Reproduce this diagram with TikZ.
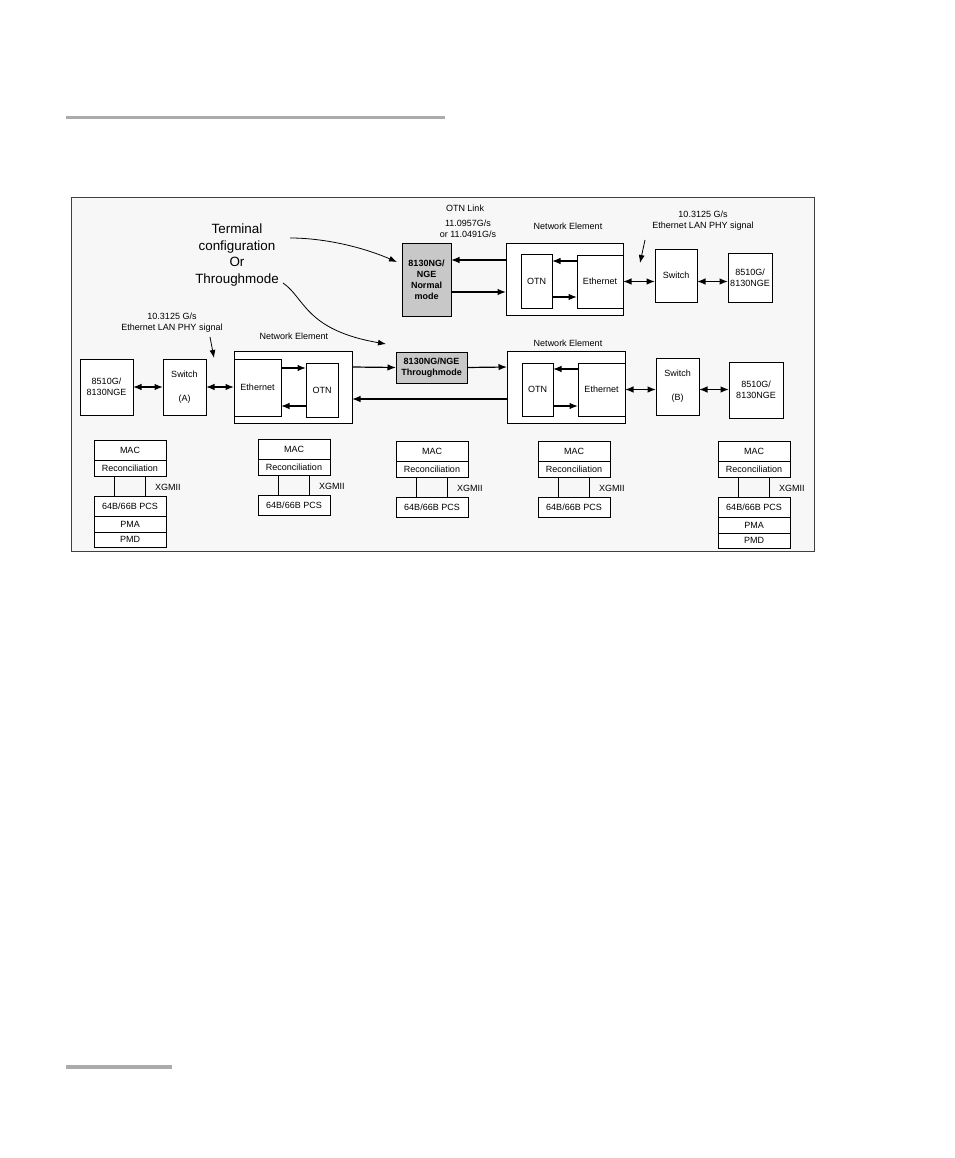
\documentclass[tikz,border=0pt]{standalone}
\usepackage{fontspec}
\setmainfont{Liberation Sans}
\usepackage{xcolor}
\usetikzlibrary{arrows.meta}
\definecolor{framebg}{HTML}{F7F7F7}
\definecolor{boxgray}{HTML}{C8C8C8}
\definecolor{rulegray}{HTML}{ABABAB}

\begin{document}
\begin{tikzpicture}[x=1pt,y=-1pt,
    blk/.style={draw, fill=white, line width=0.9pt, inner sep=0pt, outer sep=0pt, align=center, font=\fontsize{9}{11}\selectfont},
    modebox/.style={blk, fill=boxgray, font=\fontsize{9}{11}\selectfont\bfseries},
    lbl/.style={align=center, inner sep=0pt, font=\fontsize{9}{11}\selectfont},
    lyr/.style={blk, minimum width=72pt, anchor=north west},
    arr/.style={line width=1.2pt, -{Latex[length=8.5pt,width=6.5pt]}},
    darr/.style={line width=1.2pt, {Latex[length=8.5pt,width=6.5pt]}-{Latex[length=8.5pt,width=6.5pt]}},
    thin arr/.style={line width=0.8pt, -{Latex[length=8pt,width=6pt]}}]
    \useasboundingbox (0,0) rectangle (954,1158);
    % page rules and frame
    \fill[rulegray] (66,116) rectangle (445,119);
    \fill[rulegray] (66,1065) rectangle (172,1068.5);
    \draw[fill=framebg, draw=black!75, line width=0.9pt] (71,197) rectangle (814,551);

    % Mode caption
    \node[align=center, inner sep=0pt, font=\fontsize{13.4}{16.5}\selectfont] (term) at (237,255) {Terminal\\configuration\\Or\\Throughmode};
    \coordinate (c1s) at (290,238);
    \coordinate (c1e) at (397,262);
    \coordinate (c2s) at (283,283);
    \coordinate (c2e) at (386,344);
    \draw[thin arr] (c1s) .. controls (322,238) and (360,246) .. (c1e);
    \draw[thin arr] (c2s) .. controls (305,298) and (305,330) .. (c2e);

    % Top row: normal mode
    \node[modebox, minimum width=49pt, minimum height=73pt] (nm) at (426.5,279.5) {8130NG/\\NGE\\Normal\\mode};
    \node[blk, minimum width=117pt, minimum height=72pt] (netop) at (564.5,279) {};
    \node[blk, minimum width=31pt, minimum height=54pt] (otntop) at (536.5,281) {OTN};
    \node[blk, minimum width=46pt, minimum height=53pt] (ethtop) at (600,281.5) {Ethernet};
    \node[blk, minimum width=42pt, minimum height=53pt] (swtop) at (676,275.5) {Switch};
    \node[blk, minimum width=44pt, minimum height=49pt] (hosttop) at (750,277.5) {8510G/\\8130NGE};
    \node[lbl] (otnlink) at (465,208) {OTN Link};
    \node[lbl] (rates) at (468,228.5) {11.0957G/s\\or 11.0491G/s};
    \node[lbl] (netoplbl) at (568,226) {Network Element};
    \node[lbl] (phytop) at (703,221) {10.3125 G/s\\Ethernet LAN PHY signal};
    \coordinate (p1s) at (645,240);
    \coordinate (p1e) at (640,263);
    \draw[thin arr] (p1s) -- (p1e);

    \draw[arr] ([yshift=19pt]netop.west) -- ([yshift=19.5pt]nm.east);
    \draw[arr] ([yshift=-12.5pt]nm.east) -- ([yshift=-13pt]netop.west);
    \draw[arr] ([yshift=20.5pt]ethtop.west) -- ([yshift=20pt]otntop.east);
    \draw[arr] ([yshift=-16pt]otntop.east) -- ([yshift=-15.5pt]ethtop.west);
    \draw[darr] (ethtop.east) -- (ethtop.east -| swtop.west);
    \draw[darr] (ethtop.east -| swtop.east) -- (ethtop.east -| hosttop.west);

    % Bottom row: throughmode
    \node[blk, minimum width=53pt, minimum height=56pt] (hostA) at (106.5,387) {8510G/\\8130NGE};
    \node[blk, minimum width=43pt, minimum height=56pt] (swA) at (184.5,387) {Switch\\[13pt](A)};
    \node[blk, minimum width=118pt, minimum height=72pt] (neA) at (293,387) {};
    \node[blk, minimum width=47pt, minimum height=57pt] (ethA) at (257.5,387.5) {Ethernet};
    \node[blk, minimum width=32pt, minimum height=54pt] (otnA) at (322,390) {OTN};
    \node[modebox, minimum width=71pt, minimum height=31pt] (thr) at (431.5,367.5) {8130NG/NGE\\Throughmode};
    \node[blk, minimum width=118pt, minimum height=72pt] (neB) at (566,387) {};
    \node[blk, minimum width=31pt, minimum height=53pt] (otnB) at (537.5,389.5) {OTN};
    \node[blk, minimum width=47pt, minimum height=53pt] (ethB) at (601.5,389.5) {Ethernet};
    \node[blk, minimum width=43pt, minimum height=57pt] (swB) at (677.5,386.5) {Switch\\[13pt](B)};
    \node[blk, minimum width=54pt, minimum height=56pt] (hostB) at (756,390) {8510G/\\8130NGE};
    \node[lbl] (neAlbl) at (294,336) {Network Element};
    \node[lbl] (neBlbl) at (568,343) {Network Element};
    \node[lbl] (phyA) at (172,323) {10.3125 G/s\\Ethernet LAN PHY signal};
    \coordinate (p2s) at (210,337);
    \coordinate (p2e) at (214,358);
    \draw[thin arr] (p2s) -- (p2e);

    \draw[darr] (hostA.east) -- (swA.west);
    \draw[darr] (swA.east) -- (swA.east -| ethA.west);
    \draw[arr] ([yshift=19.5pt]ethA.east) -- ([yshift=22pt]otnA.west);
    \draw[arr] ([yshift=-16pt]otnA.west) -- ([yshift=-18.5pt]ethA.east);
    \draw[arr] ([yshift=20pt]neA.east) -- (thr.west);
    \draw[arr] (thr.east) -- ([yshift=20pt]neB.west);
    \draw[arr] ([yshift=-12pt]neB.west) -- ([yshift=-12pt]neA.east);
    \draw[arr] ([yshift=20.5pt]ethB.west) -- ([yshift=20.5pt]otnB.east);
    \draw[arr] ([yshift=-16.5pt]otnB.east) -- ([yshift=-16.5pt]ethB.west);
    \draw[darr] (ethB.east) -- (ethB.east -| swB.west);
    \draw[darr] (ethB.east -| swB.east) -- (ethB.east -| hostB.west);

    % Layer stacks
    \foreach \i/\x/\y/\full in {1/94/440/1, 2/258/439/0, 3/396/441/0, 4/538/441/0, 5/718/441/1} {
        \node[lyr, minimum height=20pt] (mac\i) at (\x,\y) {MAC};
        \node[lyr, minimum height=16pt] (rec\i) at (mac\i.south west) {Reconciliation};
        \node[lyr, minimum height=20pt] (pcs\i) at ([yshift=-20pt]rec\i.south west) {64B/66B PCS};
        \draw[line width=0.9pt] ([xshift=20pt]rec\i.south west) -- ([xshift=20pt]pcs\i.north west);
        \draw[line width=0.9pt] ([xshift=51pt]rec\i.south west) -- ([xshift=51pt]pcs\i.north west);
        \node[lbl, anchor=west] (xg\i) at ([xshift=61pt,yshift=-11pt]rec\i.south west) {XGMII};
        \ifnum\full=1
            \node[lyr, minimum height=16pt] (pma\i) at (pcs\i.south west) {PMA};
            \node[lyr, minimum height=15pt] (pmd\i) at (pma\i.south west) {PMD};
        \fi
    }
\end{tikzpicture}
\end{document}
